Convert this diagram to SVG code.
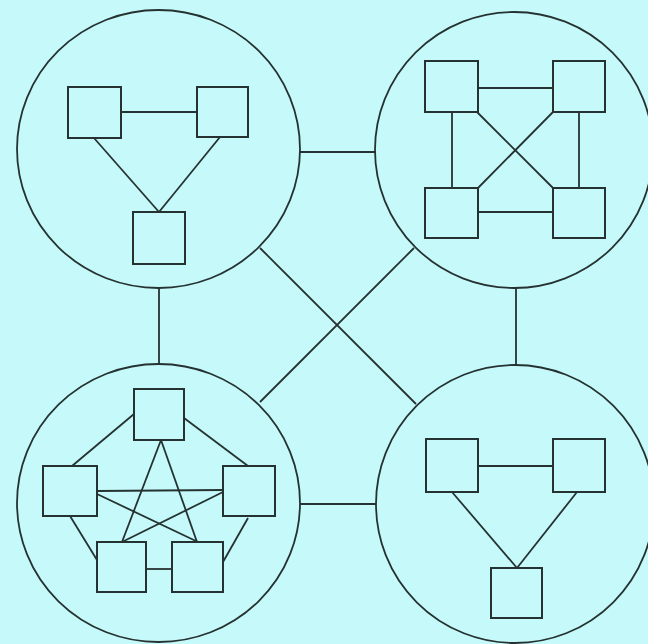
<svg xmlns="http://www.w3.org/2000/svg" width="648" height="644" viewBox="0 0 648 644">
<style>
.c{fill:none;stroke:#263232;stroke-width:1.8}
.b{fill:none;stroke:#263232;stroke-width:2}
.l{fill:none;stroke:#263232;stroke-width:1.8}
</style>
<rect width="648" height="644" fill="#c6fafa"/>
<g id="connectors">
<line class="l" x1="300" y1="152" x2="376" y2="152"/>
<line class="l" x1="159" y1="287" x2="159" y2="364"/>
<line class="l" x1="516" y1="288" x2="516" y2="365"/>
<line class="l" x1="300" y1="504" x2="376" y2="504"/>
<line class="l" x1="260" y1="248" x2="416" y2="404"/>
<line class="l" x1="414" y1="248" x2="260" y2="402"/>
</g>
<g id="cluster-tl">
<ellipse class="c" cx="158.5" cy="149" rx="141.5" ry="139"/>
<rect class="b" x="68" y="87" width="53" height="51"/>
<rect class="b" x="197" y="87" width="51" height="50"/>
<rect class="b" x="133" y="212" width="52" height="52"/>
<line class="l" x1="121" y1="112" x2="197" y2="112"/>
<line class="l" x1="94" y1="138" x2="159" y2="212"/>
<line class="l" x1="220" y1="137" x2="159" y2="212"/>
</g>
<g id="cluster-tr">
<ellipse class="c" cx="514" cy="150" rx="139" ry="138"/>
<rect class="b" x="425" y="61" width="53" height="51"/>
<rect class="b" x="553" y="61" width="52" height="51"/>
<rect class="b" x="425" y="188" width="53" height="50"/>
<rect class="b" x="553" y="188" width="52" height="50"/>
<line class="l" x1="478" y1="88" x2="553" y2="88"/>
<line class="l" x1="478" y1="212" x2="553" y2="212"/>
<line class="l" x1="452" y1="112" x2="452" y2="188"/>
<line class="l" x1="579" y1="112" x2="579" y2="188"/>
<line class="l" x1="477" y1="112" x2="553" y2="188"/>
<line class="l" x1="553" y1="112" x2="478" y2="188"/>
</g>
<g id="cluster-bl">
<ellipse class="c" cx="158.5" cy="503" rx="141.5" ry="139"/>
<rect class="b" x="134" y="389" width="50" height="51"/>
<rect class="b" x="43" y="466" width="54" height="50"/>
<rect class="b" x="223" y="466" width="52" height="50"/>
<rect class="b" x="97" y="542" width="49" height="50"/>
<rect class="b" x="172" y="542" width="51" height="50"/>
<line class="l" x1="134" y1="414" x2="72" y2="466"/>
<line class="l" x1="184" y1="418" x2="248" y2="466"/>
<line class="l" x1="70" y1="516" x2="97" y2="560"/>
<line class="l" x1="248" y1="518" x2="223" y2="562"/>
<line class="l" x1="146" y1="569" x2="172" y2="569"/>
<line class="l" x1="161" y1="440" x2="122" y2="542"/>
<line class="l" x1="161" y1="440" x2="197" y2="542"/>
<line class="l" x1="97" y1="491" x2="223" y2="490"/>
<line class="l" x1="97" y1="494" x2="198" y2="542"/>
<line class="l" x1="223" y1="492" x2="122" y2="542"/>
</g>
<g id="cluster-br">
<ellipse class="c" cx="515" cy="504" rx="139" ry="139"/>
<rect class="b" x="426" y="439" width="52" height="53"/>
<rect class="b" x="553" y="439" width="52" height="53"/>
<rect class="b" x="491" y="568" width="51" height="50"/>
<line class="l" x1="478" y1="466" x2="553" y2="466"/>
<line class="l" x1="452" y1="492" x2="517" y2="568"/>
<line class="l" x1="577" y1="492" x2="517" y2="568"/>
</g>
</svg>
